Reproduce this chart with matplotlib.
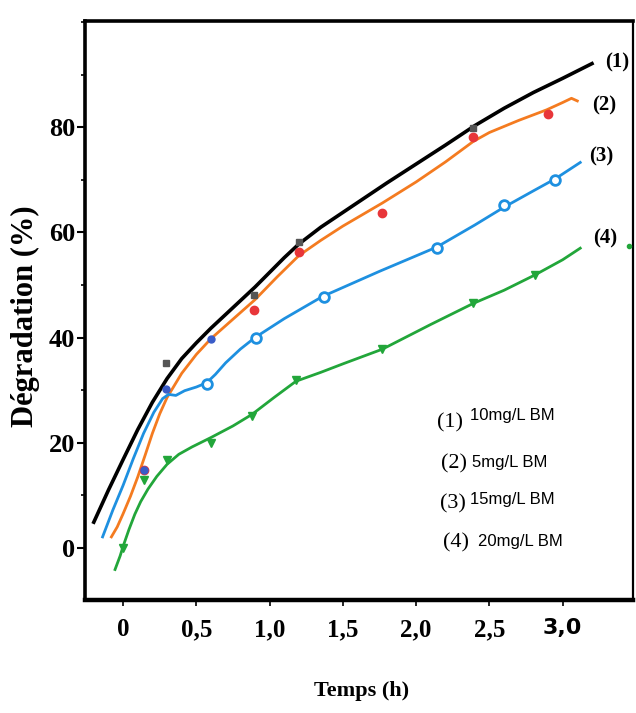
import matplotlib
matplotlib.use("Agg")
import matplotlib.pyplot as plt
from matplotlib.ticker import MultipleLocator

# courbes ajustées
x1 = [-0.20, -0.10, 0.0, 0.10, 0.20, 0.30, 0.40, 0.50, 0.60, 0.70, 0.80, 0.90,
      1.00, 1.10, 1.20, 1.35, 1.50, 1.65, 1.80, 2.00, 2.20, 2.40, 2.60, 2.80,
      3.00, 3.20]
y1 = [4.9, 11.0, 16.8, 22.5, 27.7, 32.2, 36.0, 39.0, 41.8, 44.4, 47.0, 49.6,
      52.4, 55.2, 57.8, 61.0, 63.8, 66.6, 69.4, 73.0, 76.6, 80.3, 83.6, 86.6,
      89.3, 92.1]

x2 = [-0.08, -0.04, 0.0, 0.05, 0.10, 0.15, 0.20, 0.25, 0.30, 0.40, 0.50, 0.60,
      0.75, 0.90, 1.05, 1.20, 1.35, 1.50, 1.77, 2.00, 2.20, 2.39, 2.50, 2.70,
      2.89, 3.00, 3.06, 3.10]
y2 = [2.1, 4.0, 6.5, 9.8, 13.5, 17.6, 21.8, 25.5, 28.6, 33.2, 36.8, 39.8,
      43.5, 47.2, 51.5, 55.6, 58.5, 61.2, 65.6, 69.6, 73.4, 77.3, 79.0, 81.3,
      83.3, 84.7, 85.5, 85.0]

x3 = [-0.14, -0.07, 0.0, 0.07, 0.14, 0.21, 0.27, 0.31, 0.36, 0.42, 0.50, 0.57,
      0.63, 0.70, 0.80, 0.90, 1.10, 1.36, 1.75, 2.14, 2.40, 2.60, 2.80, 2.95,
      3.12]
y3 = [2.1, 7.2, 11.9, 17.0, 21.8, 25.8, 28.4, 29.2, 29.0, 29.9, 30.6, 31.4,
      33.0, 35.2, 37.8, 40.0, 43.6, 47.8, 52.6, 57.2, 61.4, 64.8, 67.9, 70.2,
      73.3]

x4 = [-0.055, -0.02, 0.0, 0.04, 0.08, 0.12, 0.17, 0.23, 0.30, 0.38, 0.47, 0.60,
      0.75, 0.88, 1.03, 1.18, 1.35, 1.50, 1.77, 2.10, 2.39, 2.60, 2.81, 3.00,
      3.12]
y4 = [-4.1, -1.5, 0.3, 3.5, 6.4, 8.8, 11.2, 13.6, 15.9, 17.8, 19.2, 21.0,
      23.2, 25.4, 28.6, 31.7, 33.4, 35.0, 37.8, 42.5, 46.5, 49.0, 51.9, 54.8,
      57.0]

# points expérimentaux
px1 = [0.29, 0.89, 1.20, 2.39]
py1 = [35.2, 48.1, 58.2, 79.8]
px2 = [0.14, 0.89, 1.20, 1.77, 2.39, 2.90]
py2 = [14.9, 45.3, 56.3, 63.6, 78.2, 82.6]
px3 = [0.57, 0.91, 1.37, 2.14, 2.60, 2.95]
py3 = [31.1, 40.0, 47.8, 57.0, 65.2, 70.0]
px3b = [0.14, 0.29, 0.60]
py3b = [14.9, 30.2, 39.7]
px4 = [0.0, 0.14, 0.30, 0.60, 0.88, 1.18, 1.77, 2.39, 2.81]
py4 = [0.0, 13.0, 16.8, 20.0, 25.1, 32.0, 37.8, 46.5, 51.9]
px4b = [3.45]
py4b = [57.4]

courbes = ['(1)', '(2)', '(3)', '(4)']
pos_lab = [(3.37, 92.4), (3.28, 84.2), (3.26, 74.4), (3.29, 58.9)]
legende = ['10mg/L BM', '5mg/L BM', '15mg/L BM', '20mg/L BM']
pos_leg = [(2.23, 23.8, 2.37, 25.1), (2.26, 15.9, 2.38, 16.2),
           (2.25, 8.3, 2.37, 9.2), (2.27, 0.9, 2.42, 1.3)]

xticks = [0, 0.5, 1.0, 1.5, 2.0, 2.5, 3.0]
xlabels = ['0', '0,5', '1,0', '1,5', '2,0', '2,5', '3,0']
yticks = [0, 20, 40, 60, 80]

serif = 'Liberation Serif'

fig = plt.figure(figsize=(6.36, 7.13), dpi=100)
ax = fig.add_axes([85 / 636, 113 / 713, 548 / 636, 579 / 713])

noir, orange, bleu, vert = '#000000', '#f47b20', '#1e90e0', '#22a63a'

ax.plot(x1, y1, color=noir, lw=2.6, zorder=3)
ax.plot(x2, y2, color=orange, lw=2.0, zorder=3)
ax.plot(x3, y3, color=bleu, lw=2.0, zorder=3)
ax.plot(x4, y4, color=vert, lw=2.0, zorder=3)

ax.plot(px1, py1, 's', color='#555555', ms=5, zorder=4)
ax.plot(px2, py2, 'o', color='#e8363a', ms=6, zorder=4)
ax.plot(px3, py3, 'o', mfc='white', mec=bleu, mew=2, ms=7, zorder=4)
ax.plot(px3b, py3b, 'o', color='#3a5cc8', ms=5, zorder=4)
ax.plot(px4, py4, 'v', color=vert, ms=6, zorder=4)
ax.plot(px4b, py4b, 'o', color=vert, ms=3, zorder=4)

for t, (x, y) in zip(courbes, pos_lab):
    ax.text(x, y, t, family=serif, weight='bold', fontsize=15,
            ha='center', va='center')

for t, lab, (xa, ya, xb, yb) in zip(courbes, legende, pos_leg):
    ax.text(xa, ya, t, family=serif, fontsize=16, ha='center', va='center')
    ax.text(xb, yb, lab, family='Liberation Sans', fontsize=12,
            ha='left', va='center')

ax.set_xlim(-0.26, 3.48)
ax.set_ylim(-9.9, 100.2)

ax.set_xticks(xticks)
ax.set_xticklabels(xlabels)
ax.set_yticks(yticks)
ax.yaxis.set_minor_locator(MultipleLocator(10))

ax.tick_params(axis='x', direction='out', length=4, width=1.2, pad=9)
ax.tick_params(axis='y', which='major', direction='out', length=6, width=1.5, pad=1)
ax.tick_params(axis='y', which='minor', direction='out', length=3, width=1.2)
for lab in ax.get_xticklabels() + ax.get_yticklabels():
    lab.set_family(serif)
    lab.set_weight('bold')
    lab.set_fontsize(18)
for lab in ax.get_yticklabels():
    lab.set_fontsize(19)
dernier = ax.get_xticklabels()[-1]
dernier.set_family('DejaVu Sans')
dernier.set_fontsize(16)

for s, w in zip(['left', 'bottom', 'top', 'right'], [2.6, 3.2, 2.6, 1.6]):
    ax.spines[s].set_linewidth(w)

ax.set_ylabel('Dégradation (%)', family=serif, weight='bold', fontsize=22)
ax.yaxis.set_label_coords(-0.082, 0.49)
ax.set_xlabel('Temps (h)', family=serif, weight='bold', fontsize=16)
ax.xaxis.set_label_coords(0.505, -0.14)

fig.savefig('out.png', dpi=100)
